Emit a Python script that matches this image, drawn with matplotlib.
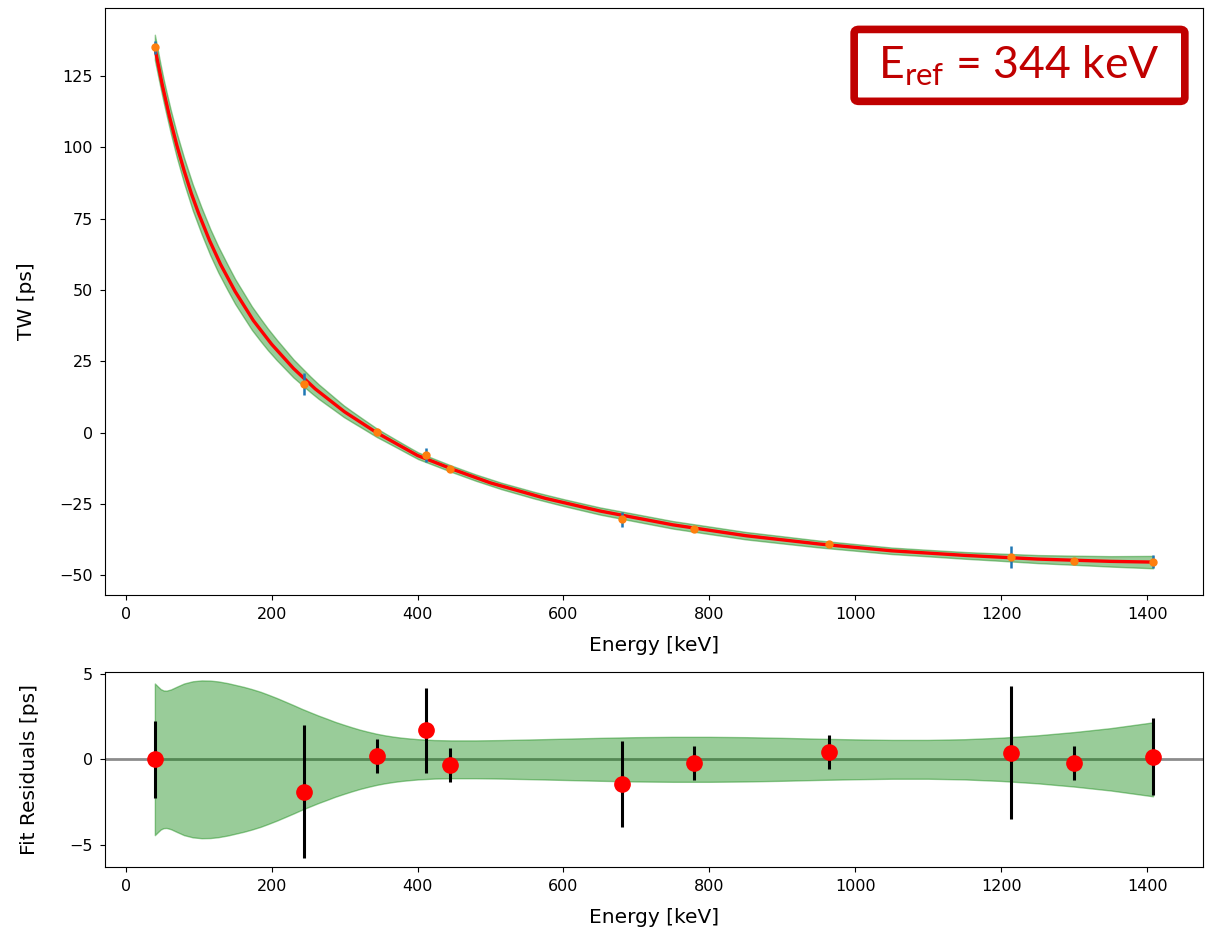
import numpy as np
import matplotlib
matplotlib.use('Agg')
import matplotlib.pyplot as plt
from matplotlib.patches import FancyBboxPatch

# measured lines (keV)
energies = [40.0, 244.7, 344.3, 411.1, 444.0, 680.0, 778.9, 964.0, 1212.9, 1299.1, 1408.0]
# TW data points [ps] and their uncertainties
tw_data = [135.0, 17.0, 0.2, -7.8, -12.9, -30.4, -33.8, -39.0, -43.5, -44.9, -45.2]
tw_err = [2.25, 3.9, 1.0, 2.5, 1.0, 2.5, 1.0, 1.0, 3.9, 1.0, 2.25]
# residuals (data - fit) [ps]
residuals = [0.0, -1.9, 0.2, 1.7, -0.35, -1.45, -0.2, 0.45, 0.4, -0.2, 0.15]

# fit curve
fit_e = [40, 50, 60, 70, 80, 90, 100, 115, 130, 150, 175, 200, 230, 260, 300, 344,
         400, 450, 500, 575, 650, 750, 850, 950, 1050, 1150, 1250, 1350, 1408]
fit_tw = [135.0, 122.1, 110.8, 100.8, 91.9, 83.8, 76.8, 67.3, 59.0, 49.5, 39.3, 31.0,
          22.5, 15.3, 7.3, 0.0, -8.0, -13.0, -17.6, -23.0, -27.45, -32.3, -36.1, -39.0,
          -41.4, -43.0, -44.3, -45.1, -45.35]
# half width of the fit uncertainty band [ps]
band_e = [40, 44, 48, 52, 56, 62, 70, 80, 92, 104, 116, 127, 140, 150, 162, 173, 185,
          195, 207, 218, 230, 241, 253, 264, 276, 287, 299, 310, 321, 332, 344, 355,
          367, 378, 390, 401, 423, 446, 480, 515, 560, 600, 650, 700, 750, 800, 850,
          900, 950, 1000, 1050, 1100, 1150, 1200, 1250, 1300, 1350, 1408]
band_hw = [4.45, 4.28, 4.12, 4.04, 4.03, 4.1, 4.26, 4.45, 4.58, 4.63, 4.62, 4.57, 4.47,
           4.37, 4.25, 4.12, 3.96, 3.8, 3.6, 3.4, 3.18, 2.97, 2.76, 2.57, 2.38, 2.2,
           2.03, 1.88, 1.74, 1.62, 1.5, 1.41, 1.33, 1.27, 1.22, 1.18, 1.13, 1.11, 1.11,
           1.13, 1.17, 1.21, 1.26, 1.3, 1.32, 1.32, 1.3, 1.26, 1.21, 1.17, 1.14, 1.14,
           1.18, 1.27, 1.41, 1.6, 1.83, 2.17]

fit_e = np.array(fit_e, dtype=float)
fit_tw = np.array(fit_tw)
band_e = np.array(band_e, dtype=float)
band_hw = np.array(band_hw)
# band around the fit curve in the top panel, on the band grid
fit_on_band = np.interp(band_e, fit_e, fit_tw)

plt.rcParams['font.size'] = 11.5
plt.rcParams['axes.labelsize'] = 14.5
plt.rcParams['xtick.major.pad'] = 5
plt.rcParams['ytick.major.pad'] = 5

fig = plt.figure(figsize=(12.09, 9.34), dpi=100)
ax = fig.add_axes([0.0868, 0.363, 0.9082, 0.6284])
axr = fig.add_axes([0.0868, 0.0717, 0.9082, 0.2093])

# top panel
ax.fill_between(band_e, fit_on_band - band_hw, fit_on_band + band_hw, color='g', alpha=0.4)
ax.plot(fit_e, fit_tw, color='r', lw=2.4)
ax.errorbar(energies, tw_data, yerr=tw_err, fmt='none', ecolor='C0', elinewidth=1.8)
ax.plot(energies, tw_data, 'o', color='C1', ms=5)
ax.set_yticks([-50, -25, 0, 25, 50, 75, 100, 125])
ax.set_xlabel('Energy [keV]', labelpad=10)
ax.set_ylabel('TW [ps]', labelpad=17)

# residual panel
axr.axhline(0, color='0.55', lw=2, zorder=0)
axr.fill_between(band_e, -band_hw, band_hw, color='g', alpha=0.4)
axr.errorbar(energies, residuals, yerr=tw_err, fmt='o', color='r', ecolor='k',
             elinewidth=2.2, ms=11)
axr.set_yticks([-5, 0, 5])
axr.set_xlabel('Energy [keV]', labelpad=10)
axr.set_ylabel('Fit Residuals [ps]', labelpad=22)

# reference energy label box
box = FancyBboxPatch((0.7065, 0.8915), 0.2735, 0.077, transform=fig.transFigure,
                     boxstyle='round,pad=0,rounding_size=0.004', fc='white',
                     ec='#c00000', lw=5.5)
fig.add_artist(box)
fig.text(0.843, 0.929, r'E$_\mathregular{ref}$ = 344 keV', color='#c00000',
         fontsize=32, family='Lato', ha='center', va='center')

fig.savefig('out.png', dpi=100)
